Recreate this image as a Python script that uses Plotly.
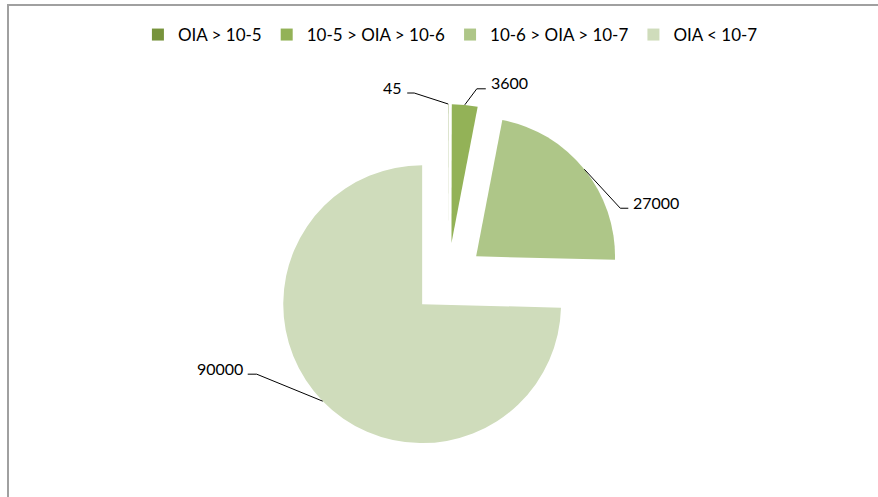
import math
import plotly.graph_objects as go

# ---- data ----
categories = ["OIA > 10-5", "10-5 > OIA > 10-6", "10-6 > OIA > 10-7", "OIA < 10-7"]
values = [45, 3600, 27000, 90000]
colors = ["#77933C", "#93B257", "#AEC688", "#CFDCBB"]

# ---- layout / style config ----
W, H = 878, 497
pull = 0.26
dom_x = [273 / W, 623 / W]
dom_y = [1 - 454 / H, 1 - 104 / H]
# leader-line elbow offsets (px) from the arc anchor, and horizontal tail length
leader_elbow = [(-34, -11), (12, -16), (36, 39), (-66, -27)]
leader_tail = [-7, 9, 8, -9]
FONT = "Lato"

fig = go.Figure(go.Pie(
    labels=categories,
    values=values,
    sort=False,
    direction="clockwise",
    rotation=0,
    pull=[pull] * len(values),
    marker=dict(colors=colors, line=dict(width=0)),
    textinfo="none",
    hoverinfo="label+value",
    domain=dict(x=dom_x, y=dom_y),
))

# geometry matching plotly's pie scaling
bw = W * (dom_x[1] - dom_x[0])
bh = H * (dom_y[1] - dom_y[0])
r = min(bw, bh) / (2 * (1 + pull))
cx = W * (dom_x[0] + dom_x[1]) / 2
cy = H * (1 - (dom_y[0] + dom_y[1]) / 2)

def px(x):
    return x / W

def py(y):
    return 1 - y / H

shapes = []
annotations = []
total = sum(values)
cum = 0
for i, v in enumerate(values):
    a0 = cum / total * 2 * math.pi
    cum += v
    a1 = cum / total * 2 * math.pi
    mid = (a0 + a1) / 2
    ux, uy = math.sin(mid), -math.cos(mid)
    ax = cx + pull * r * ux + r * ux
    ay = cy + pull * r * uy + r * uy
    ex, ey = ax + leader_elbow[i][0], ay + leader_elbow[i][1]
    tx, ty = ex + leader_tail[i], ey
    shapes.append(dict(
        type="path", xref="paper", yref="paper",
        path=f"M {px(ax)},{py(ay)} L {px(ex)},{py(ey)} L {px(tx)},{py(ty)}",
        line=dict(color="black", width=1),
    ))
    right = leader_tail[i] > 0
    annotations.append(dict(
        x=px(tx + (3 if right else -3)), y=py(ty - 6),
        xref="paper", yref="paper",
        text=str(v), showarrow=False,
        xanchor="left" if right else "right", yanchor="middle",
        font=dict(family=FONT, size=16, color="black"),
    ))

# outer chart border (clipped at right and bottom in the reference)
shapes.append(dict(
    type="rect", xref="paper", yref="paper",
    x0=px(8), y0=py(5), x1=1.05, y1=-0.05,
    line=dict(color="#A0A0A0", width=2),
))

fig.update_layout(
    width=W, height=H,
    margin=dict(l=0, r=0, t=0, b=0),
    paper_bgcolor="white",
    plot_bgcolor="white",
    font=dict(family=FONT, size=16, color="black"),
    showlegend=True,
    legend=dict(
        orientation="h",
        x=0.513, xanchor="center",
        y=py(35), yanchor="middle",
        font=dict(family=FONT, size=17, color="black"),
        itemclick=False, itemdoubleclick=False,
    ),
    shapes=shapes,
    annotations=annotations,
)

fig.write_html(
    "out.html",
    config={"displayModeBar": False},
    post_script="document.body.style.margin='0px';document.body.style.overflow='hidden';",
)
